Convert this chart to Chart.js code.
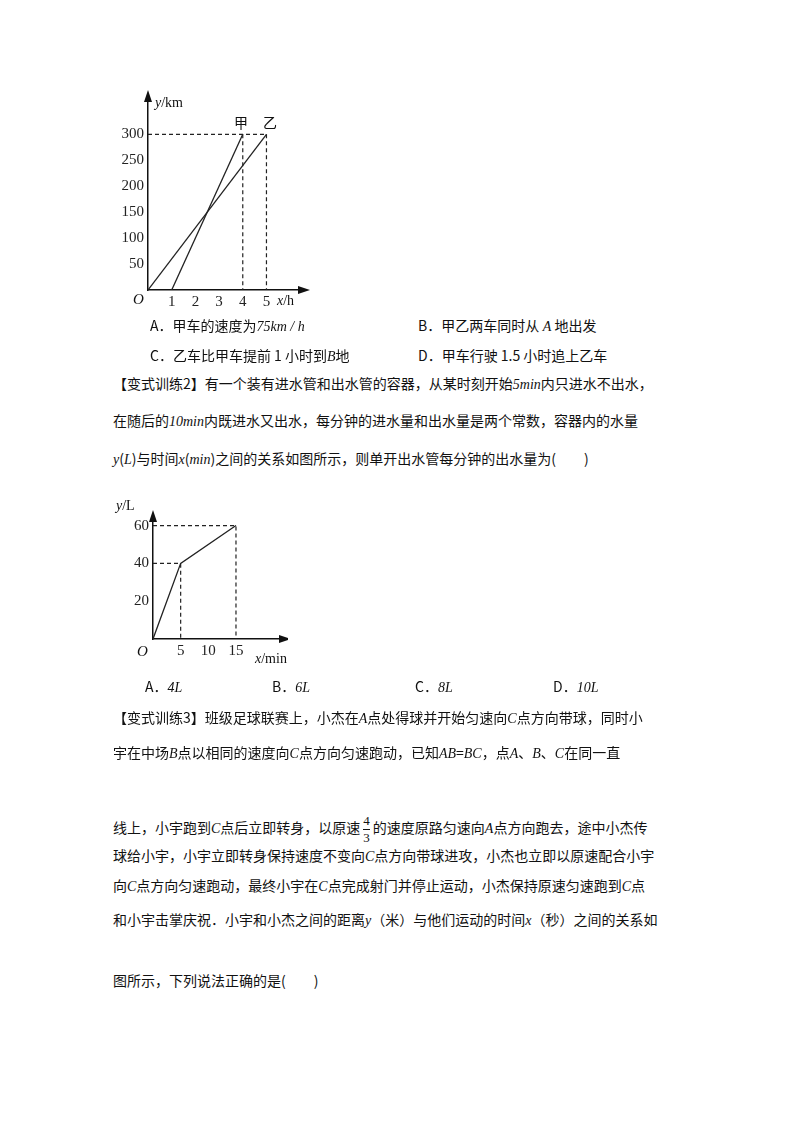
<!DOCTYPE html>
<html><head><meta charset="utf-8">
<script src="https://cdn.jsdelivr.net/npm/chart.js@4"></script>
<style>
body{margin:0;width:800px;height:1132px;background:#fff;position:relative;font-family:"Noto Sans CJK SC","Liberation Serif",serif;color:#111}
.t{position:absolute;font-size:14px;line-height:20px;white-space:nowrap}
.i{font-family:"Liberation Serif",serif;font-style:italic}
.s{font-family:"Liberation Serif",serif}
.fr{display:inline-block;vertical-align:middle;text-align:center;font-family:"Liberation Serif",serif;font-size:13px;line-height:16px;margin:0 3px}
.fr span{display:block}
canvas{position:absolute}
</style></head><body>
<div style="position:absolute;left:110px;top:85px;width:202px;height:225px"><canvas id="c1"></canvas></div>
<div style="position:absolute;left:110px;top:505px;width:178px;height:154px"><canvas id="c2"></canvas></div>

<div class="t" style="left:155px;top:91px"><span class="i">y</span><span class="s">/km</span></div>
<div class="t" style="left:234px;top:112px">甲</div>
<div class="t" style="left:263px;top:112px">乙</div>
<div class="t i" style="left:133px;top:289px;font-size:15px">O</div>
<div class="t" style="left:277px;top:289px"><span class="i">x</span><span class="s">/h</span></div>

<div class="t" style="left:116px;top:494px"><span class="i">y</span><span class="s">/L</span></div>
<div class="t i" style="left:137px;top:641px;font-size:15px">O</div>
<div class="t" style="left:255px;top:647px"><span class="i">x</span><span class="s">/min</span></div>

<div class="t" style="left:150px;top:315px">A．甲车的速度为<span class="i">75km / h</span></div>
<div class="t" style="left:418px;top:315px">B．甲乙两车同时从<span class="i"> A </span>地出发</div>
<div class="t" style="left:150px;top:345px">C．乙车比甲车提前 1 小时到<span class="i">B</span>地</div>
<div class="t" style="left:418px;top:345px">D．甲车行驶 1.5 小时追上乙车</div>
<div class="t" style="left:113px;top:373px">【变式训练2】有一个装有进水管和出水管的容器，从某时刻开始<span class="i">5min</span>内只进水不出水，</div>
<div class="t" style="left:113px;top:410px">在随后的<span class="i">10min</span>内既进水又出水，每分钟的进水量和出水量是两个常数，容器内的水量</div>
<div class="t" style="left:113px;top:448px"><span class="i">y</span>(<span class="i">L</span>)与时间<span class="i">x</span>(<span class="i">min</span>)之间的关系如图所示，则单开出水管每分钟的出水量为(　　)</div>
<div class="t" style="left:145px;top:676px">A．<span class="i">4L</span></div>
<div class="t" style="left:272px;top:676px">B．<span class="i">6L</span></div>
<div class="t" style="left:415px;top:676px">C．<span class="i">8L</span></div>
<div class="t" style="left:553px;top:676px">D．<span class="i">10L</span></div>
<div class="t" style="left:113px;top:707px">【变式训练3】班级足球联赛上，小杰在<span class="i">A</span>点处得球并开始匀速向<span class="i">C</span>点方向带球，同时小</div>
<div class="t" style="left:113px;top:742px">宇在中场<span class="i">B</span>点以相同的速度向<span class="i">C</span>点方向匀速跑动，已知<span class="i">AB</span>=<span class="i">BC</span>，点<span class="i">A</span>、<span class="i">B</span>、<span class="i">C</span>在同一直</div>
<div class="t" style="left:113px;top:813px">线上，小宇跑到<span class="i">C</span>点后立即转身，以原速<span class="fr"><span style="border-bottom:1px solid #111">4</span><span>3</span></span>的速度原路匀速向<span class="i">A</span>点方向跑去，途中小杰传</div>
<div class="t" style="left:113px;top:845px">球给小宇，小宇立即转身保持速度不变向<span class="i">C</span>点方向带球进攻，小杰也立即以原速配合小宇</div>
<div class="t" style="left:113px;top:875px">向<span class="i">C</span>点方向匀速跑动，最终小宇在<span class="i">C</span>点完成射门并停止运动，小杰保持原速匀速跑到<span class="i">C</span>点</div>
<div class="t" style="left:113px;top:909px">和小宇击掌庆祝．小宇和小杰之间的距离<span class="i">y</span>（米）与他们运动的时间<span class="i">x</span>（秒）之间的关系如</div>
<div class="t" style="left:113px;top:970px">图所示，下列说法正确的是(　　)</div>

<script>
// Chart 1 data
const jiaX=[1,4], jiaY=[0,300];
const yiX=[0,5], yiY=[0,300];
const xTicks1=[1,2,3,4,5], yTicks1=[50,100,150,200,250,300];
// Chart 2 data
const waterX=[0,5,15], waterY=[0,40,60];
const xTicks2=[5,10,15], yTicks2=[20,40,60];

const pts=(xs,ys)=>xs.map((x,i)=>({x,y:ys[i]}));
const solid=d=>({data:d,borderColor:'#222',borderWidth:1.3,pointRadius:0,fill:false,tension:0});
const dash=d=>({data:d,borderColor:'#222',borderWidth:1.2,borderDash:[4,3],pointRadius:0,fill:false,tension:0});
const arrows={id:'arrows',afterDraw(c){const g=c.ctx,a=c.chartArea;g.save();g.fillStyle='#111';
 g.beginPath();g.moveTo(a.right+8,a.bottom);g.lineTo(a.right-4,a.bottom-4);g.lineTo(a.right-4,a.bottom+4);g.fill();
 g.beginPath();g.moveTo(a.left,a.top-8);g.lineTo(a.left-4,a.top+4);g.lineTo(a.left+4,a.top+4);g.fill();g.restore();}};
function mk(id,ds,xmax,ymax,xt,yt,yw,pad){
 new Chart(document.getElementById(id),{type:'line',data:{datasets:ds},plugins:[arrows],
 options:{responsive:true,maintainAspectRatio:false,animation:false,layout:{padding:pad},
 plugins:{legend:{display:false},tooltip:{enabled:false}},
 scales:{x:{type:'linear',min:0,max:xmax,grid:{display:false,drawTicks:false},border:{color:'#111',width:1.5},
   afterBuildTicks:s=>{s.ticks=xt.map(v=>({value:v}))},afterFit:s=>{s.height=20},
   ticks:{color:'#222',font:{family:'Liberation Serif',size:15},padding:3}},
  y:{type:'linear',min:0,max:ymax,grid:{display:false,drawTicks:false},border:{color:'#111',width:1.5},
   afterBuildTicks:s=>{s.ticks=yt.map(v=>({value:v}))},afterFit:s=>{s.width=yw},
   ticks:{color:'#222',font:{family:'Liberation Serif',size:15},padding:4}}}}});
}
mk('c1',[solid(pts(jiaX,jiaY)),solid(pts(yiX,yiY)),
 dash([{x:0,y:300},{x:5,y:300}]),dash([{x:4,y:300},{x:4,y:0}]),dash([{x:5,y:300},{x:5,y:0}])],
 6.5,370,xTicks1,yTicks1,38,{top:10,right:10});
mk('c2',[solid(pts(waterX,waterY)),
 dash([{x:0,y:40},{x:5,y:40},{x:5,y:0}]),dash([{x:0,y:60},{x:15,y:60},{x:15,y:0}])],
 23.5,64,xTicks2,yTicks2,43,{top:10,right:5});
</script>
</body></html>
